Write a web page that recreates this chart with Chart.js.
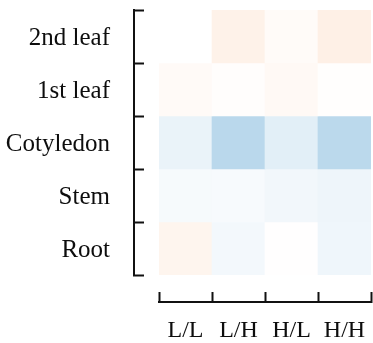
<!DOCTYPE html>
<html>
<head>
<meta charset="utf-8">
<script src="https://cdn.jsdelivr.net/npm/chart.js@4/dist/chart.umd.min.js"></script>
<style>
  html, body { margin: 0; padding: 0; background: #ffffff; }
  #wrap { width: 373px; height: 343px; }
</style>
</head>
<body>
<div id="wrap"><canvas id="heat"></canvas></div>
<script>
// Tissues listed top to bottom, treatments left to right
const tissues = ['2nd leaf', '1st leaf', 'Cotyledon', 'Stem', 'Root'];
const treatments = ['L/L', 'L/H', 'H/L', 'H/H'];

// Cell values per tissue (one entry per treatment)
const secondLeaf = [0.000, 0.095, 0.030, 0.110];
const firstLeaf  = [0.035, 0.015, 0.045, 0.008];
const cotyledon  = [-0.090, -0.300, -0.125, -0.295];
const stem       = [-0.040, -0.035, -0.058, -0.075];
const root       = [0.075, -0.053, 0.005, -0.070];
const rowValues = [secondLeaf, firstLeaf, cotyledon, stem, root];

// Diverging colour scale: blue (negative) - white (0) - orange (positive)
const NEG_END = [25, 125, 192];
const POS_END = [245, 115, 25];
function cellColor(v) {
  const t = Math.min(1, Math.abs(v));
  const end = v < 0 ? NEG_END : POS_END;
  const c = end.map(e => Math.round(255 + (e - 255) * t));
  return 'rgb(' + c.join(',') + ')';
}

const SERIF = '"Liberation Serif", "Times New Roman", Times, serif';
const INK = '#111111';

// One floating-bar band per tissue row
const datasets = tissues.map((name, i) => {
  const lo = tissues.length - 1 - i;
  return {
    label: name,
    data: rowValues[i].map(() => [lo, lo + 1]),
    backgroundColor: rowValues[i].map(cellColor),
    borderWidth: 0,
    barPercentage: 1,
    categoryPercentage: 1,
    grouped: false,
    xAxisID: 'xl',
    yAxisID: 'y'
  };
});

// Fixed axis box sizes; label overhang must not shrink the cell area
function fixBox(size) {
  return function (s) {
    if (s.isHorizontal()) s.height = size; else s.width = size;
    s.paddingTop = 0; s.paddingBottom = 0; s.paddingLeft = 0; s.paddingRight = 0;
  };
}

new Chart(document.getElementById('heat'), {
  type: 'bar',
  data: { labels: treatments, datasets },
  options: {
    responsive: true,
    maintainAspectRatio: false,
    animation: false,
    devicePixelRatio: 1,
    layout: { padding: { top: 10, right: 2, left: 0, bottom: 0 } },
    plugins: { legend: { display: false }, tooltip: { enabled: false } },
    scales: {
      y: { type: 'linear', display: false, min: 0, max: tissues.length },
      // gap between the left spine and the cells
      ys: {
        type: 'linear', axis: 'y', position: 'left', weight: 0, display: true,
        min: 0, max: 1,
        grid: { display: false, drawTicks: false },
        border: { display: false },
        ticks: { display: false },
        afterFit: fixBox(25)
      },
      yl: {
        type: 'category', axis: 'y', position: 'left', weight: 1, display: true,
        labels: tissues, offset: true,
        grid: { offset: true, drawOnChartArea: false, tickLength: -10, tickWidth: 2, tickColor: INK },
        border: { display: true, width: 2, color: INK },
        ticks: { padding: 34, color: '#0d0d0d', labelOffset: 2, font: { family: SERIF, size: 25 } },
        afterFit: fixBox(134)
      },
      // gap between the cells and the bottom spine
      xs: {
        type: 'linear', axis: 'x', position: 'bottom', weight: 0, display: true,
        min: 0, max: 1,
        grid: { display: false, drawTicks: false },
        border: { display: false },
        ticks: { display: false },
        afterFit: fixBox(27)
      },
      xl: {
        type: 'category', axis: 'x', position: 'bottom', weight: 1, display: true,
        labels: treatments, offset: true,
        grid: { offset: true, drawOnChartArea: false, tickLength: -10, tickWidth: 2, tickColor: INK },
        border: { display: true, width: 2, color: INK },
        ticks: { padding: 24, color: '#0d0d0d', maxRotation: 0, autoSkip: false, font: { family: SERIF, size: 24 } },
        afterFit: fixBox(41)
      }
    }
  }
});
</script>
</body>
</html>
